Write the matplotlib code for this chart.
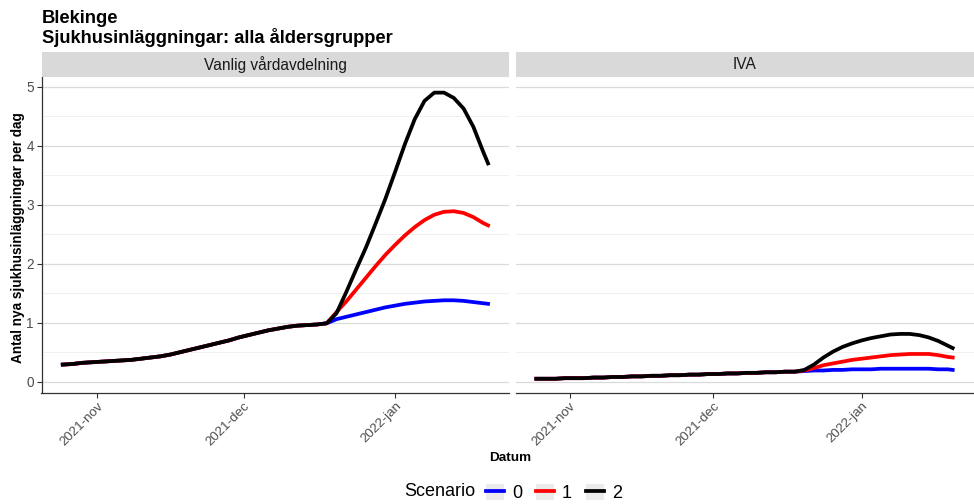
import numpy as np
import pandas as pd
import matplotlib
matplotlib.use("Agg")
import matplotlib.pyplot as plt
from matplotlib.patches import Patch
from matplotlib.lines import Line2D
from matplotlib.legend_handler import HandlerTuple

plt.rcParams['font.family'] = ['Liberation Sans', 'DejaVu Sans']

# --- data ---
common_dates = pd.date_range("2021-10-25", "2021-12-18", freq="2D")
tail_dates = pd.date_range("2021-12-20", periods=16, freq="2D").append(
    pd.DatetimeIndex(["2022-01-20"]))

ward_common = [0.29, 0.30, 0.32, 0.33, 0.34, 0.35, 0.36, 0.37, 0.39, 0.41,
               0.43, 0.46, 0.50, 0.54, 0.58, 0.62, 0.66, 0.70, 0.75, 0.79,
               0.83, 0.87, 0.90, 0.93, 0.95, 0.96, 0.97, 0.99]
ward_s0 = [1.06, 1.10, 1.14, 1.18, 1.22, 1.26, 1.29, 1.32, 1.34, 1.36,
           1.37, 1.38, 1.38, 1.37, 1.35, 1.33, 1.32]
ward_s1 = [1.18, 1.36, 1.56, 1.76, 1.96, 2.15, 2.32, 2.48, 2.62, 2.74,
           2.83, 2.88, 2.89, 2.86, 2.79, 2.69, 2.65]
ward_s2 = [1.16, 1.52, 1.90, 2.27, 2.68, 3.10, 3.56, 4.03, 4.45, 4.76,
           4.90, 4.90, 4.81, 4.63, 4.32, 3.90, 3.70]

iva_common = [0.05, 0.05, 0.05, 0.06, 0.06, 0.06, 0.07, 0.07, 0.08, 0.08,
              0.09, 0.09, 0.10, 0.10, 0.11, 0.11, 0.12, 0.12, 0.13, 0.13,
              0.14, 0.14, 0.15, 0.15, 0.16, 0.16, 0.17, 0.17]
iva_s0 = [0.18, 0.19, 0.19, 0.20, 0.20, 0.21, 0.21, 0.21, 0.22, 0.22,
          0.22, 0.22, 0.22, 0.22, 0.21, 0.21, 0.20]
iva_s1 = [0.19, 0.23, 0.28, 0.31, 0.34, 0.37, 0.39, 0.41, 0.43, 0.45,
          0.46, 0.47, 0.47, 0.47, 0.45, 0.42, 0.41]
iva_s2 = [0.20, 0.29, 0.41, 0.51, 0.59, 0.65, 0.70, 0.74, 0.77, 0.80,
          0.81, 0.81, 0.79, 0.75, 0.69, 0.61, 0.57]

scenarios = ["0", "1", "2"]
colors = ["#0000ff", "#ff0000", "#000000"]
panel_titles = ["Vanlig vårdavdelning", "IVA"]
tick_dates = pd.to_datetime(["2021-11-01", "2021-12-01", "2022-01-01"])
tick_labels = ["2021-nov", "2021-dec", "2022-jan"]

panels = [(ward_common, [ward_s0, ward_s1, ward_s2]),
          (iva_common, [iva_s0, iva_s1, iva_s2])]

# --- layout in pixels ---
W, H = 974, 504
fig = plt.figure(figsize=(W / 100, H / 100), dpi=100)
fig.patch.set_facecolor("white")


def px_axes(x0, y0, x1, y1):
    return fig.add_axes([x0 / W, 1 - y1 / H, (x1 - x0) / W, (y1 - y0) / H])


all_dates = common_dates.append(tail_dates)
span = all_dates[-1] - all_dates[0]
xlim = (all_dates[0] - span * 0.05, all_dates[-1] + span * 0.05)

boxes = [(41.5, 515.5), (509.3, 973.5)]
lines_for_legend = []
for i, (common, tails) in enumerate(panels):
    x0, x1 = boxes[0][i], boxes[1][i]
    ax = px_axes(x0, 77.3, x1, 392.5)
    for tail, col in zip(tails, colors):
        ln, = ax.plot(all_dates, list(common) + list(tail), color=col,
                      lw=2.7, solid_joinstyle="round", zorder=3)
        if i == 0:
            lines_for_legend.append(ln)
    ax.set_xlim(xlim)
    ax.set_ylim(-0.183, 5.16)
    ax.set_yticks(range(6))
    ax.set_yticks(np.arange(0.5, 5.5, 1.0), minor=True)
    ax.grid(axis="y", which="major", color="#dadada", lw=0.9, zorder=0)
    ax.grid(axis="y", which="minor", color="#f0f0f0", lw=0.7, zorder=0)
    ax.set_xticks(tick_dates)
    ax.set_xticklabels(tick_labels, rotation=45, ha="right", va="top",
                       rotation_mode="anchor", fontsize=9.6, color="#4d4d4d")
    ax.tick_params(axis="x", length=3.5, width=0.8, color="#333333", pad=2)
    ax.tick_params(axis="y", which="minor", length=0)
    for s in ["top", "right"]:
        ax.spines[s].set_visible(False)
    ax.spines["bottom"].set_color("#333333")
    ax.spines["bottom"].set_linewidth(0.9)
    if i == 0:
        ax.spines["left"].set_color("#333333")
        ax.spines["left"].set_linewidth(0.9)
        ax.tick_params(axis="y", length=3.5, width=0.8, color="#333333",
                       labelsize=9.8, labelcolor="#4d4d4d", pad=2)
    else:
        ax.spines["left"].set_visible(False)
        ax.tick_params(axis="y", length=0, labelleft=False)

    # facet strip
    sx = px_axes(x0, 52.3, x1, 77.3)
    sx.set_facecolor("#d9d9d9")
    sx.set_xticks([])
    sx.set_yticks([])
    for s in sx.spines.values():
        s.set_visible(False)
    sx.text(0.5, 0.5, panel_titles[i], ha="center", va="center",
            fontsize=11.2, color="#1a1a1a", transform=sx.transAxes)

fig.text(41.5 / W, 1 - 10 / H, "Blekinge\nSjukhusinläggningar: alla åldersgrupper",
         ha="left", va="top", fontsize=13.2, fontweight="bold",
         linespacing=1.05)
fig.text(18 / W, 1 - 237.5 / H, "Antal nya sjukhusinläggningar per dag",
         rotation=90, ha="center", va="center", fontsize=9.8, fontweight="bold")
fig.text(510 / W, 1 - 458 / H, "Datum", ha="center", va="center",
         fontsize=9.7, fontweight="bold")

# legend
handles = [(Patch(facecolor="#ebebeb", edgecolor="none"),
            Line2D([], [], color=ln.get_color(), lw=2.7)) for ln in lines_for_legend]
fig.text(404 / W, 1 - 492 / H, "Scenario", ha="left", va="center", fontsize=13)
fig.legend(handles, scenarios, loc="center left",
           bbox_to_anchor=(486 / W, 1 - 493 / H), ncol=3, frameon=False,
           fontsize=13, handlelength=1.0, handleheight=1.0,
           handletextpad=0.45, columnspacing=0.75, borderpad=0,
           borderaxespad=0,
           handler_map={tuple: HandlerTuple(ndivide=1, pad=0)})

fig.savefig("out.png", dpi=100)
